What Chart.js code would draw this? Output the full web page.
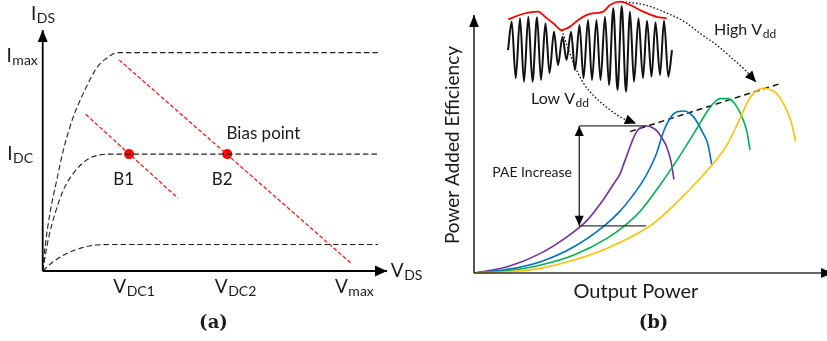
<!DOCTYPE html>
<html>
<head>
<meta charset="utf-8">
<script src="https://cdn.jsdelivr.net/npm/chart.js@4.4.1/dist/chart.umd.min.js"></script>
<style>
  html, body { margin: 0; padding: 0; background: #fff; }
  #wrap { position: relative; width: 827px; height: 341px; overflow: hidden; }
  canvas { position: absolute; top: 0; }
  #chartA { left: 0; }
  #chartB { left: 413px; }
</style>
</head>
<body>
<div id="wrap">
  <canvas id="chartA" width="430" height="341"></canvas>
  <canvas id="chartB" width="414" height="341"></canvas>
</div>
<script>
// ---- (a) I-V characteristics, axes normalised 0..100 ----
const ivCurveHigh = [{x:0,y:0},{x:0.7,y:10.1},{x:2.1,y:23.9},{x:4.1,y:37.8},{x:6.0,y:50.2},{x:8.9,y:64.0},{x:11.8,y:73.7},{x:14.7,y:82.0},{x:16.6,y:85.9},{x:18.6,y:88.3},{x:20.4,y:90.0},{x:21.9,y:90.6},{x:97.4,y:90.6}];
const ivCurveMid = [{x:0,y:0},{x:1.6,y:12.9},{x:3.6,y:23.9},{x:6.0,y:33.6},{x:8.9,y:40.5},{x:12.8,y:46.1},{x:16.6,y:48.2},{x:19.5,y:48.5},{x:97.4,y:48.5}];
const ivCurveLow = [{x:0,y:0},{x:3.1,y:3.9},{x:7.0,y:7.3},{x:11.8,y:9.8},{x:16.6,y:10.9},{x:20.5,y:11},{x:97.4,y:11}];
const loadLineB1 = [{x:12.5,y:65},{x:39.3,y:30.2}];
const loadLineB2 = [{x:22.2,y:87.6},{x:89.9,y:2.8}];
const biasPoints = [{x:25.1,y:48.5},{x:53.6,y:48.5}];

// ---- (b) PAE vs output power for four supply voltages ----
const paeVdd1 = [{x:0,y:0},{x:9.5,y:2.4},{x:18.9,y:7.6},{x:26.5,y:14.1},{x:32.2,y:20.5},{x:36.0,y:27.0},{x:39.8,y:34.8},{x:41.5,y:38.4},{x:42.6,y:42.5},{x:44.0,y:47.7},{x:45.2,y:52.0},{x:46.3,y:55.0},{x:47.4,y:56.4},{x:49.0,y:57.0},{x:50.6,y:56.4},{x:51.9,y:55.2},{x:53.4,y:52.3},{x:54.7,y:49.0},{x:56.0,y:43.0},{x:56.8,y:36.3}];
const paeVdd2 = [{x:0,y:0},{x:9.5,y:1.4},{x:18.9,y:4.4},{x:28.4,y:10.2},{x:36.9,y:18.2},{x:41.5,y:24.0},{x:44.8,y:29.5},{x:48.0,y:35.7},{x:50.0,y:40.7},{x:51.9,y:46.5},{x:53.7,y:54.3},{x:54.8,y:57.8},{x:56.6,y:61.6},{x:59.5,y:62.8},{x:62.3,y:60.6},{x:65.1,y:54.1},{x:66.5,y:49.6},{x:67.5,y:42.2}];
const paeVdd3 = [{x:0,y:0},{x:9.5,y:0.9},{x:18.9,y:3.1},{x:28.4,y:7.0},{x:38.0,y:13.6},{x:43.6,y:19.2},{x:47.2,y:23.9},{x:52.8,y:34.0},{x:58.5,y:45.5},{x:63.3,y:56.0},{x:66.1,y:62.3},{x:67.9,y:65.6},{x:69.9,y:67.6},{x:71.9,y:67.6},{x:73.7,y:66.3},{x:76.5,y:59.3},{x:77.6,y:54.3},{x:78.4,y:47.7}];
const paeVdd4 = [{x:0,y:0},{x:9.5,y:0.5},{x:18.9,y:1.8},{x:28.4,y:5.0},{x:37.9,y:9.6},{x:47.2,y:15.9},{x:51.1,y:19.3},{x:56.6,y:26.0},{x:62.3,y:33.8},{x:68.0,y:42.5},{x:71.8,y:49.5},{x:74.6,y:57.0},{x:76.5,y:62.8},{x:77.8,y:66.6},{x:79.3,y:69.5},{x:82.2,y:71.6},{x:84.1,y:71.1},{x:86.0,y:69.6},{x:88.8,y:63.2},{x:90.1,y:58.5},{x:91.4,y:50.9}];
const peakTrend = [{x:44.3,y:54.8},{x:86.7,y:73.3}];
const paeIncrease = [{x:29.9,y:18.3},{x:29.9,y:57}];
const paeTopRef = [{x:29.9,y:57},{x:48.9,y:57}];
const paeBottomRef = [{x:29.9,y:18.3},{x:48.9,y:18.3}];

// envelope-varying RF signal (peaks and troughs) and its envelope
const waveform = [{x:9.66,y:86.4},{x:10.71,y:97.4},{x:11.85,y:75.5},{x:13.07,y:98.7},{x:14.2,y:74.1},{x:15.43,y:99.3},{x:16.62,y:74.1},{x:17.9,y:99.1},{x:19.03,y:74.8},{x:20.31,y:96.8},{x:21.45,y:77.4},{x:22.73,y:93.5},{x:23.86,y:80.6},{x:25.14,y:91.6},{x:26.28,y:82.6},{x:27.56,y:93.5},{x:28.69,y:78.7},{x:29.97,y:96.1},{x:31.11,y:75.5},{x:32.39,y:98.1},{x:33.52,y:74.8},{x:34.8,y:98.1},{x:35.94,y:74.8},{x:37.22,y:99.3},{x:38.35,y:72.9},{x:39.57,y:102.6},{x:40.77,y:70.9},{x:41.96,y:103.5},{x:43.18,y:70.3},{x:44.32,y:101.3},{x:45.45,y:74.1},{x:46.73,y:98.7},{x:48.01,y:75.5},{x:49.15,y:97.8},{x:50.43,y:76.1},{x:51.56,y:97.2},{x:52.84,y:76.7},{x:53.98,y:97.8},{x:55.2,y:76.1},{x:56.25,y:86.4}];
const waveEnvelope = [{x:9.74,y:98.3},{x:12.5,y:99.8},{x:15.43,y:100.9},{x:18.27,y:101.3},{x:20.17,y:99.3},{x:22.53,y:96.8},{x:24.91,y:94.2},{x:27.27,y:95.5},{x:29.63,y:98.1},{x:32.95,y:100.4},{x:36.73,y:101.3},{x:38.64,y:103.9},{x:41.48,y:105.2},{x:44.32,y:103.9},{x:48.1,y:101.3},{x:51.9,y:99.3},{x:54.74,y:98.7}];
const lowVddPath = [{x:24.91,y:94.2},{x:26.7,y:87.2},{x:28.69,y:80},{x:31.25,y:73.3},{x:34.38,y:68.2},{x:38.64,y:63.2},{x:42.05,y:60.1},{x:46.02,y:57.9}];
const highVddPath = [{x:41.96,y:105.2},{x:48.58,y:103.9},{x:54.83,y:100.7},{x:59.94,y:97.3},{x:64.2,y:92.9},{x:69.32,y:88},{x:73.58,y:82.9},{x:76.99,y:78.7},{x:80.11,y:74}];

const FONT = 'Lato, "Open Sans", sans-serif';
const SERIF = '"DejaVu Serif", serif';

// text labels drawn at data coordinates, optional subscript
const notesPlugin = {
  id: 'notes',
  afterDatasetsDraw(chart, args, opts) {
    const { ctx, scales: { x, y } } = chart;
    (opts.items || []).forEach(n => {
      ctx.save();
      ctx.fillStyle = '#1a1a1a';
      ctx.translate(x.getPixelForValue(n.x), y.getPixelForValue(n.y));
      if (n.rotate) ctx.rotate(n.rotate * Math.PI / 180);
      const mainFont = (n.weight || '') + ' ' + n.size + 'px ' + (n.family || FONT);
      const subFont = (n.subSize || 13) + 'px ' + FONT;
      ctx.textBaseline = n.baseline || 'alphabetic';
      ctx.font = mainFont;
      const w = ctx.measureText(n.text).width;
      let sw = 0;
      if (n.sub) { ctx.font = subFont; sw = ctx.measureText(n.sub).width + 0.5; }
      const x0 = n.align === 'center' ? -(w + sw) / 2 : 0;
      ctx.font = mainFont;
      ctx.fillText(n.text, x0, 0);
      if (n.sub) { ctx.font = subFont; ctx.fillText(n.sub, x0 + w + 0.5, 3); }
      ctx.restore();
    });
  }
};

// filled arrow heads on datasets flagged with `arrow`
const arrowPlugin = {
  id: 'arrowHeads',
  afterDatasetsDraw(chart) {
    const ctx = chart.ctx;
    chart.data.datasets.forEach((ds, i) => {
      if (!ds.arrow) return;
      const pts = chart.getDatasetMeta(i).data;
      const [len, half] = ds.arrowSize || [11, 5];
      const head = (tip, from) => {
        const a = Math.atan2(tip.y - from.y, tip.x - from.x);
        const c = Math.cos(a), s = Math.sin(a);
        ctx.beginPath();
        ctx.moveTo(tip.x, tip.y);
        ctx.lineTo(tip.x - len * c + half * s, tip.y - len * s - half * c);
        ctx.lineTo(tip.x - len * c - half * s, tip.y - len * s + half * c);
        ctx.closePath();
        ctx.fill();
      };
      ctx.save();
      ctx.fillStyle = ds.arrowColor || '#000';
      const n = pts.length;
      if (ds.arrow === 'end' || ds.arrow === 'both') head(pts[n - 1], pts[n - 2]);
      if (ds.arrow === 'both') head(pts[0], pts[1]);
      ctx.restore();
    });
  }
};

function line(data, color, width, dash, extra) {
  return Object.assign({
    data, borderColor: color, borderWidth: width, borderDash: dash || [],
    showLine: true, pointRadius: 0, fill: false, clip: false, tension: 0
  }, extra || {});
}
const smooth = { cubicInterpolationMode: 'monotone' };

function makeChart(id, padding, datasets, notes) {
  return new Chart(document.getElementById(id), {
    type: 'scatter',
    data: { datasets },
    options: {
      responsive: false,
      animation: false,
      devicePixelRatio: 1,
      layout: { padding },
      scales: {
        x: { type: 'linear', min: 0, max: 100, display: false },
        y: { type: 'linear', min: 0, max: 100, display: false }
      },
      plugins: { legend: { display: false }, tooltip: { enabled: false }, notes: { items: notes } },
      events: []
    },
    plugins: [notesPlugin, arrowPlugin]
  });
}

const dashBlack = [5.5, 3];
const dashRed = [4, 2.2];

makeChart('chartA', { left: 42.7, right: 43, top: 30, bottom: 70 }, [
  line([{x:0,y:0},{x:0,y:100}], '#000', 1.8, null, { arrow: 'end', arrowSize: [12, 5] }),
  line([{x:0,y:0},{x:100,y:0}], '#000', 1.8, null, { arrow: 'end', arrowSize: [12, 5.5] }),
  line(ivCurveHigh, '#222', 1.1, dashBlack, smooth),
  line(ivCurveMid, '#222', 1.1, dashBlack, smooth),
  line(ivCurveLow, '#222', 1.1, dashBlack, smooth),
  line(loadLineB1, '#f21b1b', 1.3, dashRed),
  line(loadLineB2, '#f21b1b', 1.3, dashRed),
  { data: biasPoints, pointRadius: 5, pointBackgroundColor: '#f00', pointBorderWidth: 0, showLine: false, clip: false }
], [
  { text: 'I', sub: 'DS', x: -3.4, y: 104.1, size: 19, subSize: 14 },
  { text: 'I', sub: 'max', x: -10.5, y: 86.8, size: 19, subSize: 14 },
  { text: 'I', sub: 'DC', x: -10.3, y: 46.1, size: 19, subSize: 14 },
  { text: 'V', sub: 'DS', x: 101.1, y: -2.4, size: 19, subSize: 14 },
  { text: 'V', sub: 'DC1', x: 20.5, y: -9.3, size: 19, subSize: 14 },
  { text: 'V', sub: 'DC2', x: 50, y: -9.3, size: 19, subSize: 14 },
  { text: 'V', sub: 'max', x: 84.9, y: -9.3, size: 19, subSize: 14 },
  { text: 'Bias point', x: 53.4, y: 54.6, size: 17 },
  { text: 'B1', x: 20.5, y: 35.7, size: 17 },
  { text: 'B2', x: 49.1, y: 35.7, size: 17 },
  { text: '(a)', x: 49.6, y: -21.6, size: 18, weight: 'bold', family: SERIF, align: 'center', baseline: 'middle' }
]);

makeChart('chartB', { left: 61, right: 1, top: 15, bottom: 68 }, [
  line([{x:0,y:0},{x:0,y:100}], '#111', 1.4, null, { arrow: 'end', arrowSize: [12, 4.8] }),
  line([{x:0,y:0},{x:102,y:0}], '#333', 1.6, null, { arrow: 'end', arrowSize: [12, 5] }),
  line(paeTopRef, '#333', 1.2),
  line(paeBottomRef, '#333', 1.2),
  line(paeIncrease, '#111', 1.2, null, { arrow: 'both', arrowSize: [10, 4.5] }),
  line(paeVdd4, '#ffc000', 1.6, null, smooth),
  line(paeVdd3, '#00b050', 1.6, null, smooth),
  line(paeVdd2, '#0070c0', 1.6, null, smooth),
  line(paeVdd1, '#7030a0', 1.6, null, smooth),
  line(peakTrend, '#111', 1.5, [6, 4]),
  line(waveform, '#111', 2, null, smooth),
  line(waveEnvelope, '#f00', 1.8, null, smooth),
  line(lowVddPath, '#111', 1.3, [1.6, 2], Object.assign({ arrow: 'end', arrowSize: [11, 5] }, smooth)),
  line(highVddPath, '#111', 1.3, [1.6, 2], Object.assign({ arrow: 'end', arrowSize: [11, 5] }, smooth))
], [
  { text: 'High V', sub: 'dd', x: 68.2, y: 92.2, size: 16, subSize: 12 },
  { text: 'Low V', sub: 'dd', x: 16.2, y: 65.5, size: 16, subSize: 12 },
  { text: 'PAE Increase', x: 16.5, y: 37.1, size: 14, align: 'center' },
  { text: 'Output Power', x: 46, y: -9.8, size: 20, align: 'center' },
  { text: 'Power Added Efficiency', x: -6.0, y: 49.6, size: 19, align: 'center', baseline: 'middle', rotate: -90 },
  { text: '(b)', x: 51, y: -19.4, size: 18, weight: 'bold', family: SERIF, align: 'center', baseline: 'middle' }
]);
</script>
</body>
</html>
